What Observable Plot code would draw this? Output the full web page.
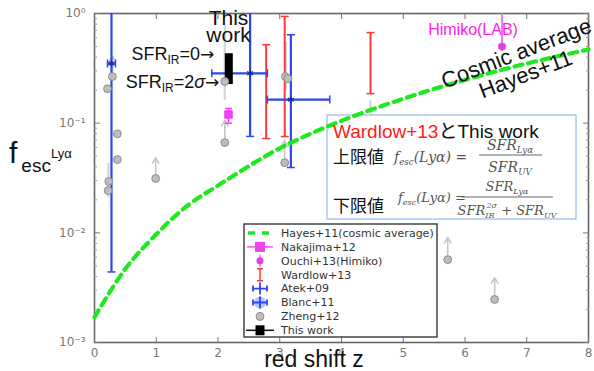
<!DOCTYPE html>
<html><head><meta charset="utf-8">
<script src="https://cdn.jsdelivr.net/npm/d3@7"></script>
<script src="https://cdn.jsdelivr.net/npm/@observablehq/plot@0.6"></script>
<style>body{margin:0;background:#fff} #chart{position:relative;width:594px;height:371px}</style>
</head><body><div id="chart"></div>
<script>
// ---- data ----
const hayesZ = [0, 0.5, 1, 1.5, 2, 3, 4, 5, 6, 7, 8];
const hayesF = [0.0017, 0.0047, 0.0097, 0.0176, 0.027, 0.059, 0.105, 0.167, 0.248, 0.35, 0.47];

const zhengZ = [0.21, 0.29, 0.37, 0.37, 0.23, 0.22, 0.99, 2.11, 2.11, 3.09, 3.13, 3.08, 5.72, 6.48];
const zhengF = [0.206, 0.266, 0.080, 0.0466, 0.0294, 0.0243, 0.0313, 0.24, 0.0665, 0.266, 0.255, 0.0436, 0.0057, 0.00247];
const zhengLimitTo = [null, 0.41, null, null, null, null, 0.0486, null, 0.106, null, null, 0.069, 0.0091, 0.0039];
const zhengErrZ = [0.225, 2.11, 3.1, 4.47];
const zhengErrLo = [0.021, 0.161, 0.2, 0.0456];
const zhengErrHi = [0.043, 0.776, 0.55, 0.16];

const wardlowZ = [2.78, 3.08, 4.47];
const wardlowLo = [0.0724, 0.0755, 0.186];
const wardlowHi = [0.52, 0.94, 0.67];

const blueZ = [0.275, 2.52, 3.18];
const blueF = [0.35, 0.285, 0.164];
const blueZlo = [0.21, 1.9, 2.8];
const blueZhi = [0.34, 2.8, 3.81];
const blueLo = [0.0044, 0.0757, 0.0394];
const blueHi = [1.3, 1.3, 0.64];

const nakajimaZ = [2.17], nakajimaF = [0.12], nakajimaLo = [0.10], nakajimaHi = [0.136];
const ouchiZ = [6.6], ouchiF = [0.5], ouchiLo = [0.47], ouchiHi = [1.3];
const thisZ = [2.175], thisLo = [0.225], thisHi = [0.43];
const sfrLabelF = [0.43, 0.24];

const xTicks = [0, 1, 2, 3, 4, 5, 6, 7, 8];
const yMajor = [1e-3, 1e-2, 1e-1, 1];
const yLabels = ["10⁻³", "10⁻²", "10⁻¹", "10⁰"];
const yMinor = [1e-3, 1e-2, 1e-1].flatMap(b => [2,3,4,5,6,7,8,9].map(m => m * b));

const legendNames = ["Hayes+11(cosmic average)", "Nakajima+12", "Ouchi+13(Himiko)", "Wardlow+13", "Atek+09", "Blanc+11", "Zheng+12", "This work"];

const annotations = [
  {z: 6.13, f: 0.70, text: "Himiko(LAB)", color: "#ff22ee", size: 16, rotate: 0},
  {z: 2.17, f: 0.742, text: "This\nwork", color: "#111", size: 21, rotate: 0},
  {z: 6.84, f: 0.42, text: "Cosmic average", color: "#111", size: 22, rotate: -21},
  {z: 6.99, f: 0.27, text: "Hayes+11", color: "#111", size: 22, rotate: -21}
];

// ---- tables ----
const hayes = hayesZ.map((z, i) => ({z, f: hayesF[i]}));
const zheng = zhengZ.map((z, i) => ({z, f: zhengF[i], to: zhengLimitTo[i]}));
const zErr = zhengErrZ.map((z, i) => ({z, lo: zhengErrLo[i], hi: zhengErrHi[i]}));
const wardlow = wardlowZ.map((z, i) => ({z, lo: wardlowLo[i], hi: wardlowHi[i]}));
const blue = blueZ.map((z, i) => ({z, f: blueF[i], zlo: blueZlo[i], zhi: blueZhi[i], lo: blueLo[i], hi: blueHi[i]}));
const naka = nakajimaZ.map((z, i) => ({z, f: nakajimaF[i], lo: nakajimaLo[i], hi: nakajimaHi[i]}));
const ouchi = ouchiZ.map((z, i) => ({z, f: ouchiF[i], lo: ouchiLo[i], hi: ouchiHi[i]}));
const thisWork = thisZ.map((z, i) => ({z, lo: thisLo[i], hi: thisHi[i]}));

const capH = {draw(ctx, size) { const r = Math.sqrt(size / Math.PI); ctx.moveTo(-r, 0); ctx.lineTo(r, 0); }};
const capV = {draw(ctx, size) { const r = Math.sqrt(size / Math.PI); ctx.moveTo(0, -r); ctx.lineTo(0, r); }};

const RED = "#ff3838", BLUE = "#2c46f2", MAG = "#ff33ff", GREEN = "#1fe81f";
const SANS = "Liberation Sans, Arial, sans-serif";

const plot = Plot.plot({
  width: 594, height: 371,
  marginLeft: 94, marginRight: 6, marginTop: 13, marginBottom: 29,
  style: {background: "transparent", fontFamily: "DejaVu Sans", overflow: "visible"},
  x: {domain: [0, 8], label: null},
  y: {type: "log", domain: [1e-3, 1], label: null},
  marks: [
    Plot.frame({stroke: "#666", strokeWidth: 1.6}),
    Plot.axisX(xTicks, {tickSize: 0, tickPadding: 6, fontSize: 12, color: "#777", label: null}),
    Plot.axisX(xTicks, {tickSize: -5, tickFormat: () => "", color: "#777", label: null}),
    Plot.axisX(xTicks, {anchor: "top", tickSize: -5, tickFormat: () => "", color: "#777", label: null}),
    Plot.axisY(yMajor, {tickSize: 0, tickPadding: 9, fontSize: 12, color: "#777", label: null,
      tickFormat: d => yLabels[yMajor.indexOf(d)]}),
    Plot.axisY(yMajor, {tickSize: -6, tickFormat: () => "", color: "#777", label: null}),
    Plot.axisY(yMinor, {tickSize: -3, tickFormat: () => "", color: "#999", label: null}),
    Plot.axisY(yMajor, {anchor: "right", tickSize: -6, tickFormat: () => "", color: "#777", label: null}),
    Plot.axisY(yMinor, {anchor: "right", tickSize: -3, tickFormat: () => "", color: "#999", label: null}),

    // Zheng+12 error bars and lower-limit arrows
    Plot.ruleX(zErr, {x: "z", y1: "lo", y2: "hi", stroke: "#d6d6d6", strokeWidth: 2.2}),
    Plot.arrow(zheng.filter(d => d.to), {x: "z", y1: "f", y2: "to", stroke: "#c6c6c6", strokeWidth: 1.6, headLength: 6}),

    // Wardlow+13
    Plot.ruleX(wardlow, {x: "z", y1: "lo", y2: "hi", stroke: RED, strokeWidth: 2}),
    Plot.dot(wardlow, {x: "z", y: "lo", symbol: capH, r: 4, stroke: RED, fill: "none", strokeWidth: 1.5}),
    Plot.dot(wardlow, {x: "z", y: "hi", symbol: capH, r: 4, stroke: RED, fill: "none", strokeWidth: 1.5}),

    // Atek+09 / Blanc+11
    Plot.ruleX(blue, {x: "z", y1: "lo", y2: "hi", stroke: BLUE, strokeWidth: 2.2, clip: true}),
    Plot.ruleY(blue, {y: "f", x1: "zlo", x2: "zhi", stroke: BLUE, strokeWidth: 2.2}),
    Plot.dot(blue, {x: "z", y: "lo", symbol: capH, r: 4, stroke: BLUE, fill: "none", strokeWidth: 1.5}),
    Plot.dot(blue, {x: "z", y: "hi", symbol: capH, r: 4, stroke: BLUE, fill: "none", strokeWidth: 1.5, clip: true}),
    Plot.dot(blue, {x: "zlo", y: "f", symbol: capV, r: 4, stroke: BLUE, fill: "none", strokeWidth: 1.5}),
    Plot.dot(blue, {x: "zhi", y: "f", symbol: capV, r: 4, stroke: BLUE, fill: "none", strokeWidth: 1.5}),
    Plot.dot(blue, {x: "z", y: "f", symbol: "asterisk", r: 3.2, stroke: "#1a2a90", strokeWidth: 1.2}),

    // This work
    Plot.ruleX(thisWork, {x: "z", y1: "lo", y2: "hi", stroke: "#000", strokeWidth: 8}),

    // Zheng+12 points
    Plot.dot(zheng, {x: "z", y: "f", r: 3.9, fill: "#bdbdbd", stroke: "#8c8c8c", strokeWidth: 1}),

    // Nakajima+12
    Plot.ruleX(naka, {x: "z", y1: "lo", y2: "hi", stroke: MAG, strokeWidth: 1.6}),
    Plot.dot(naka, {x: "z", y: "lo", symbol: capH, r: 3.5, stroke: MAG, fill: "none", strokeWidth: 1.5}),
    Plot.dot(naka, {x: "z", y: "hi", symbol: capH, r: 3.5, stroke: MAG, fill: "none", strokeWidth: 1.5}),
    Plot.dot(naka, {x: "z", y: "f", symbol: "square", r: 4.2, fill: "#e64ae6", stroke: MAG, strokeWidth: 1}),

    // Ouchi+13 (Himiko)
    Plot.ruleX(ouchi, {x: "z", y1: "lo", y2: "hi", stroke: "#e85ce8", strokeWidth: 1.6, clip: true}),
    Plot.dot(ouchi, {x: "z", y: "f", symbol: "hexagon", r: 3.6, fill: "#dd44dd", stroke: "#ee66ee", strokeWidth: 1}),

    // Hayes+11
    Plot.line(hayes, {x: "z", y: "f", stroke: GREEN, strokeWidth: 4.2, strokeDasharray: "8,6",
      curve: "catmull-rom", className: "hayes"}),

    // text annotations
    Plot.text(annotations, {x: "z", y: "f", text: "text", fill: "color", fontSize: "size", rotate: "rotate",
      fontFamily: SANS, lineHeight: 0.82})
  ]
});

document.getElementById("chart").appendChild(plot);
const svg = d3.select(plot);
const sx = plot.scale("x"), sy = plot.scale("y");

// Formula box (behind Hayes line)
const box = svg.insert("g", ".hayes");
box.append("rect").attr("x", 327).attr("y", 115).attr("width", 249).attr("height", 104)
  .attr("fill", "#fff").attr("fill-opacity", 0.82).attr("stroke", "#9ab8ee").attr("stroke-width", 1.2);

const boxText = svg.append("g").attr("text-anchor", "start");
const t0 = boxText.append("text").attr("x", 333).attr("y", 138).attr("font-size", 19)
  .attr("font-family", SANS + ", Noto Sans CJK JP");
t0.append("tspan").attr("fill", "#ff2020").text("Wardlow+13");
t0.append("tspan").attr("fill", "#111").attr("font-family", "Noto Sans CJK JP").text("と");
t0.append("tspan").attr("fill", "#111").text("This work");

boxText.append("text").attr("x", 333).attr("y", 163).attr("font-size", 17)
  .attr("font-family", "Noto Sans CJK JP").attr("fill", "#111").text("上限値");
boxText.append("text").attr("x", 333).attr("y", 212).attr("font-size", 17)
  .attr("font-family", "Noto Sans CJK JP").attr("fill", "#111").text("下限値");

function formulaLHS(x, y, fs) {
  const t = boxText.append("text").attr("x", x).attr("y", y).attr("font-size", fs)
    .attr("font-family", "DejaVu Serif, serif").attr("font-style", "italic").attr("fill", "#555");
  t.append("tspan").text("f");
  t.append("tspan").attr("font-size", fs * 0.62).attr("dy", 3).text("esc");
  t.append("tspan").attr("dy", -3).text("(Lyα) =");
}
function sfrText(x, y, fs, sub) {
  const t = boxText.append("text").attr("x", x).attr("y", y).attr("font-size", fs)
    .attr("font-family", "DejaVu Serif, serif").attr("font-style", "italic").attr("fill", "#555")
    .attr("text-anchor", "middle");
  t.append("tspan").text("SFR");
  t.append("tspan").attr("font-size", fs * 0.62).attr("dy", 3).text(sub);
  return t;
}
formulaLHS(394, 162, 14);
sfrText(510, 150, 14, "Lyα");
boxText.append("line").attr("x1", 479).attr("x2", 542).attr("y1", 155).attr("y2", 155).attr("stroke", "#666");
sfrText(510, 172, 14, "UV");

formulaLHS(398, 202, 13);
sfrText(507, 191, 13, "Lyα");
boxText.append("line").attr("x1", 462).attr("x2", 553).attr("y1", 197).attr("y2", 197).attr("stroke", "#666");
{
  const t = boxText.append("text").attr("x", 507).attr("y", 215).attr("font-size", 13)
    .attr("font-family", "DejaVu Serif, serif").attr("font-style", "italic").attr("fill", "#555")
    .attr("text-anchor", "middle");
  t.append("tspan").text("SFR");
  t.append("tspan").attr("font-size", 8).attr("dy", 3).text("IR");
  t.append("tspan").attr("font-size", 8).attr("dx", -8).attr("dy", -10).text("2σ");
  t.append("tspan").attr("dy", 7).text(" + SFR");
  t.append("tspan").attr("font-size", 8).attr("dy", 3).text("UV");
}

// SFR_IR labels pointing at this work bar
const sfrG = svg.append("g").attr("font-family", SANS).attr("font-size", 18).attr("fill", "#111").attr("text-anchor", "end");
const l1 = sfrG.append("text").attr("x", sx.apply(thisZ[0]) - 14).attr("y", sy.apply(sfrLabelF[0]) + 7);
l1.append("tspan").text("SFR");
l1.append("tspan").attr("font-size", 12).attr("dy", 4).text("IR");
l1.append("tspan").attr("dy", -4).text("=0");
l1.append("tspan").attr("font-family", "DejaVu Sans").attr("font-size", 17).text("→");
const l2 = sfrG.append("text").attr("x", sx.apply(thisZ[0]) - 9).attr("y", sy.apply(sfrLabelF[1]) + 7);
l2.append("tspan").text("SFR");
l2.append("tspan").attr("font-size", 12).attr("dy", 4).text("IR");
l2.append("tspan").attr("dy", -4).text("=2");
l2.append("tspan").attr("font-style", "italic").text("σ");
l2.append("tspan").attr("font-family", "DejaVu Sans").attr("font-size", 17).text("→");

// Axis titles
const yl = svg.append("text").attr("x", 9).attr("y", 163).attr("font-family", SANS).attr("fill", "#111").attr("text-anchor", "start");
yl.append("tspan").attr("font-size", 30).text("f");
yl.append("tspan").attr("font-size", 19).attr("dx", 4).attr("dy", 8.5).text("esc");
yl.append("tspan").attr("font-size", 13).attr("dy", -14).text("Lyα");
svg.append("text").attr("x", 314).attr("y", 367).attr("text-anchor", "middle").attr("font-family", SANS)
  .attr("font-size", 23).attr("fill", "#111").text("red shift z");

// Legend
const lg = svg.append("g").attr("text-anchor", "start");
lg.append("rect").attr("x", 244).attr("y", 224).attr("width", 193).attr("height", 113)
  .attr("fill", "#fff").attr("stroke", "#444").attr("stroke-width", 1.5);
legendNames.forEach((name, i) => {
  const cy = 233 + i * 13.9, cx = 260;
  const g = lg.append("g");
  if (i === 0) {
    g.append("line").attr("x1", 248).attr("x2", 272).attr("y1", cy).attr("y2", cy)
      .attr("stroke", GREEN).attr("stroke-width", 3.5).attr("stroke-dasharray", "7,7");
  } else if (i === 1) {
    g.append("line").attr("x1", 247).attr("x2", 273).attr("y1", cy).attr("y2", cy).attr("stroke", MAG).attr("stroke-width", 1.3);
    g.append("rect").attr("x", cx - 4.5).attr("y", cy - 4.5).attr("width", 9).attr("height", 9).attr("fill", "#e64ae6").attr("stroke", MAG);
  } else if (i === 2) {
    g.append("line").attr("x1", cx).attr("x2", cx).attr("y1", cy - 6).attr("y2", cy + 6).attr("stroke", MAG).attr("stroke-width", 1.2);
    g.append("path").attr("d", d3.symbol(d3.symbolCircle, 40)()).attr("transform", `translate(${cx},${cy})`).attr("fill", "#dd44dd");
  } else if (i === 3) {
    g.append("path").attr("d", `M${cx},${cy - 6}V${cy + 6}M${cx - 3},${cy - 6}H${cx + 3}M${cx - 3},${cy + 6}H${cx + 3}`)
      .attr("stroke", RED).attr("stroke-width", 1.5).attr("fill", "none");
  } else if (i === 4 || i === 5) {
    if (i === 5) g.append("circle").attr("cx", cx).attr("cy", cy).attr("r", 6).attr("fill", "#b8c4ff");
    g.append("path").attr("d", `M${cx - 7},${cy}H${cx + 7}M${cx},${cy - 6}V${cy + 6}M${cx - 7},${cy - 3}V${cy + 3}M${cx + 7},${cy - 3}V${cy + 3}`)
      .attr("stroke", BLUE).attr("stroke-width", 1.8).attr("fill", "none");
  } else if (i === 6) {
    g.append("circle").attr("cx", cx).attr("cy", cy).attr("r", 4).attr("fill", "#bdbdbd").attr("stroke", "#8c8c8c");
  } else {
    g.append("line").attr("x1", 246).attr("x2", 274).attr("y1", cy).attr("y2", cy).attr("stroke", "#111").attr("stroke-width", 1.5);
    g.append("rect").attr("x", cx - 4.5).attr("y", cy - 5).attr("width", 9).attr("height", 10).attr("fill", "#000");
  }
  lg.append("text").attr("x", 281).attr("y", cy).attr("dy", "0.35em").attr("font-family", "DejaVu Sans")
    .attr("font-size", 11).attr("fill", "#333").text(name);
});
</script>
</body></html>
